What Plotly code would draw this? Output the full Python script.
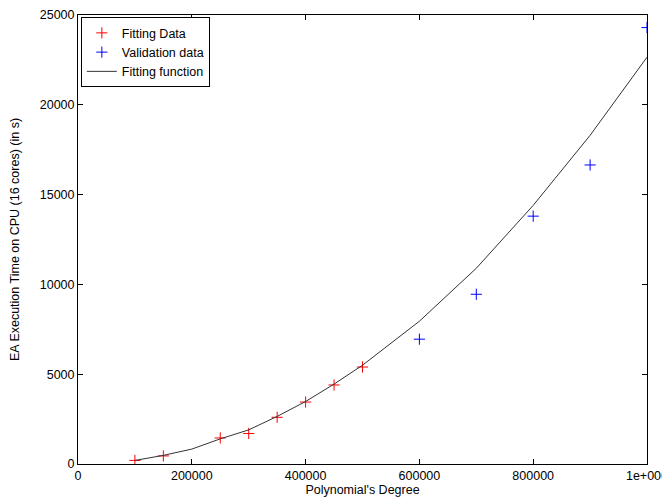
import plotly.graph_objects as go

fit_x = [100000, 150000, 250000, 300000, 350000, 400000, 450000, 500000]
fit_y = [200, 450, 1450, 1700, 2600, 3450, 4400, 5400]

val_x = [600000, 700000, 800000, 900000, 1000000]
val_y = [6950, 9450, 13800, 16650, 24300]

func_x = [100000, 150000, 200000, 250000, 300000, 350000, 400000, 450000, 500000,
          600000, 700000, 800000, 900000, 1000000]
func_y = [200, 480, 830, 1400, 1900, 2650, 3480, 4450, 5500,
          7950, 10900, 14400, 18300, 22650]

x_ticks = [0, 200000, 400000, 600000, 800000, 1000000]
x_ticktext = ["0", "200000", "400000", "600000", "800000", "1e+006"]
y_ticks = [0, 5000, 10000, 15000, 20000, 25000]
y_ticktext = ["0", "5000", "10000", "15000", "20000", "25000"]

font = dict(family="Liberation Sans, Arial, sans-serif", size=12.5, color="black")

fig = go.Figure()
fig.add_trace(go.Scatter(x=fit_x, y=fit_y, mode="markers", name="Fitting Data",
                         marker=dict(symbol="cross-thin", size=8, color="red",
                                     line=dict(color="red", width=1))))
fig.add_trace(go.Scatter(x=val_x, y=val_y, mode="markers", name="Validation data",
                         marker=dict(symbol="cross-thin", size=8, color="blue",
                                     line=dict(color="blue", width=1))))
fig.add_trace(go.Scatter(x=func_x, y=func_y, mode="lines", name="Fitting function",
                         line=dict(color="#333333", width=1)))

axis_common = dict(showgrid=False, zeroline=False, showline=True, linecolor="black",
                   linewidth=1, mirror="ticks", ticks="inside", ticklen=5,
                   tickcolor="black", tickfont=font, automargin=False)

fig.update_layout(
    width=662, height=490,
    margin=dict(l=70, r=23, t=7, b=34),
    paper_bgcolor="white", plot_bgcolor="white",
    font=font,
    showlegend=True,
    legend=dict(x=0.005, y=0.995, xanchor="left", yanchor="top",
                bordercolor="black", borderwidth=1, bgcolor="white",
                font=font, tracegroupgap=0, itemwidth=30,
                entrywidth=112, entrywidthmode="pixels"),
    xaxis=dict(range=[0, 1000000], tickvals=x_ticks, ticktext=x_ticktext,
               title=dict(text="Polynomial's Degree", font=font, standoff=2),
               **axis_common),
    yaxis=dict(range=[0, 25000], tickvals=y_ticks, ticktext=y_ticktext,
               title=dict(text="EA Execution Time on CPU (16 cores) (in s)", font=font,
                          standoff=24),
               **axis_common),
)

fig.write_html("out.html")
